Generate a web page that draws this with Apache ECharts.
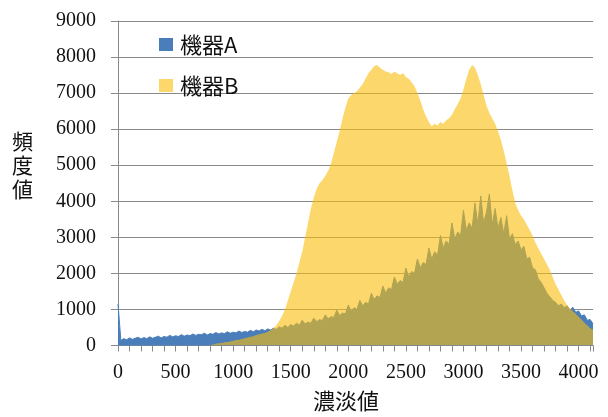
<!DOCTYPE html>
<html>
<head>
<meta charset="utf-8">
<script src="https://cdn.jsdelivr.net/npm/echarts@6/dist/echarts.min.js"></script>
<style>
  html, body { margin: 0; padding: 0; background: #fff; }
  #chart { width: 608px; height: 417px; }
</style>
</head>
<body>
<div id="chart"></div>
<script>
// Histogram of grey levels (濃淡値), sampled in bins of 25
const BIN_STEP = 25;
const seriesNames = ['機器A', '機器B'];

const countsA = [
  1150, 140, 190, 160, 210, 170, 200, 230, 180, 220,
  190, 240, 200, 230, 260, 210, 250, 230, 280, 240,
  270, 250, 300, 260, 290, 270, 320, 280, 310, 300,
  340, 290, 330, 310, 360, 320, 350, 330, 380, 340,
  370, 350, 400, 360, 390, 370, 420, 380, 430, 400,
  450, 410, 460, 430, 480, 450, 520, 480, 560, 500,
  580, 540, 620, 560, 700, 600, 650, 620, 760, 660,
  720, 690, 850, 740, 800, 780, 980, 830, 900, 880,
  1120, 950, 1050, 1000, 1250, 1100, 1200, 1150, 1450, 1280,
  1380, 1330, 1650, 1450, 1600, 1550, 1900, 1700, 1800, 1750,
  2150, 1900, 2050, 2000, 2400, 2150, 2300, 2250, 2700, 2400,
  2600, 2500, 3050, 2700, 2900, 2800, 3400, 2950, 3150, 3050,
  3750, 3200, 3400, 3250, 3950, 3350, 4150, 3400, 3700, 4200,
  3350, 3800, 3250, 3550, 3100, 3600, 2950, 3100, 2800, 2900,
  2650, 2750, 2400, 2450, 2150, 2100, 1850, 1750, 1600, 1450,
  1350, 1250, 1200, 1100, 1150, 1050, 1100, 980, 1060, 920,
  960, 820, 850, 700, 720, 600
];

const countsB = [
  0, 0, 0, 0, 0, 0, 0, 0, 0, 0,
  0, 0, 0, 0, 0, 0, 0, 0, 0, 0,
  0, 0, 0, 0, 0, 0, 0, 0, 0, 0,
  0, 0, 10, 30, 50, 60, 70, 90, 100, 110,
  130, 150, 160, 180, 200, 220, 240, 260, 290, 310,
  330, 350, 380, 420, 480, 560, 680, 820, 1000, 1250,
  1500, 1750, 2000, 2300, 2600, 3000, 3400, 3800, 4100, 4350,
  4500, 4580, 4700, 4850, 5050, 5350, 5650, 5950, 6300, 6600,
  6850, 6950, 7000, 7050, 7150, 7250, 7400, 7550, 7650, 7750,
  7780, 7700, 7650, 7600, 7580, 7530, 7600, 7550, 7500, 7560,
  7450, 7400, 7300, 7200, 7000, 6800, 6550, 6350, 6200, 6080,
  6150, 6100, 6200, 6150, 6250, 6300, 6400, 6550, 6700, 6850,
  7100, 7400, 7650, 7780, 7700, 7500, 7250, 6950, 6650, 6450,
  6300, 6150, 5950, 5700, 5400, 5050, 4700, 4300, 3950, 3750,
  3600, 3500, 3350, 3200, 3050, 2850, 2700, 2550, 2400, 2250,
  2100, 1900, 1700, 1550, 1400, 1250, 1120, 1030, 950, 880,
  800, 720, 630, 560, 480, 440
];

const xTicks = [0, 500, 1000, 1500, 2000, 2500, 3000, 3500, 4000];
const yTicks = [0, 1000, 2000, 3000, 4000, 5000, 6000, 7000, 8000, 9000];

const toPairs = arr => arr.map((v, i) => [i * BIN_STEP, v]);

const serif = 'Liberation Serif';
const cjk = 'Noto Sans CJK JP';
const axisGray = '#8a8a8a';

const chart = echarts.init(document.getElementById('chart'), null, { renderer: 'canvas' });

chart.setOption({
  animation: false,
  backgroundColor: '#ffffff',
  grid: { left: 118, right: 15, top: 21, bottom: 71.5, containLabel: false },
  legend: {
    data: seriesNames,
    orient: 'vertical',
    left: 154,
    top: 28,
    icon: 'rect',
    itemWidth: 14,
    itemHeight: 13,
    itemGap: 18,
    textStyle: { fontFamily: cjk, fontSize: 22, color: '#111', lineHeight: 23, padding: [0, 0, 0, 2] }
  },
  xAxis: {
    type: 'value',
    min: 0,
    max: 4125,
    interval: xTicks[1] - xTicks[0],
    axisLine: { show: true, lineStyle: { color: axisGray, width: 1 } },
    axisTick: { show: true, length: 6, lineStyle: { color: axisGray } },
    minorTick: { show: true, splitNumber: 5, length: 6, lineStyle: { color: axisGray } },
    splitLine: { show: false },
    axisLabel: {
      fontFamily: serif, fontSize: 20, color: '#111', margin: 17,
      showMaxLabel: false,
      formatter: v => (xTicks.includes(v) ? String(v) : '')
    }
  },
  yAxis: {
    type: 'value',
    min: yTicks[0],
    max: yTicks[yTicks.length - 1],
    interval: yTicks[1] - yTicks[0],
    axisLine: { show: true, lineStyle: { color: axisGray, width: 1 } },
    axisTick: { show: true, length: 7, lineStyle: { color: axisGray } },
    splitLine: { show: true, lineStyle: { color: axisGray, width: 1 } },
    axisLabel: {
      fontFamily: serif, fontSize: 20, color: '#111', margin: 22,
      formatter: v => String(v)
    }
  },
  graphic: [
    {
      // vertical axis title, one character per line
      type: 'text', left: 12, top: 129,
      style: { text: '頻\n度\n値', fontFamily: cjk, fontSize: 21, fill: '#111', lineHeight: 24 }
    },
    {
      type: 'text', left: 313, top: 390,
      style: { text: '濃淡値', fontFamily: cjk, fontSize: 22, fill: '#111' }
    }
  ],
  series: [
    {
      name: seriesNames[0],
      type: 'line',
      data: toPairs(countsA),
      symbol: 'none',
      color: '#4a7ebb',
      lineStyle: { width: 1, color: '#4a7ebb' },
      areaStyle: { color: '#4a7ebb', opacity: 1 },
      z: 2
    },
    {
      name: seriesNames[1],
      type: 'line',
      data: toPairs(countsB),
      symbol: 'none',
      color: 'rgba(250,190,10,0.6)',
      lineStyle: { width: 0 },
      areaStyle: { color: 'rgba(250,190,10,0.6)', opacity: 1 },
      z: 3
    }
  ]
});
</script>
</body>
</html>
